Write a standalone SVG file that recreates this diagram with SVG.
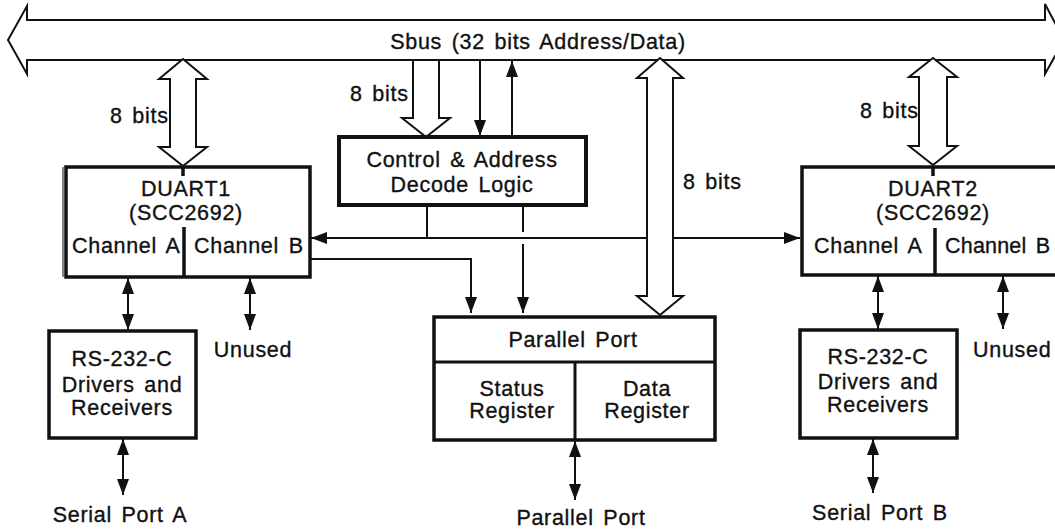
<svg xmlns="http://www.w3.org/2000/svg" width="1055" height="531" viewBox="0 0 1055 531">
  <style>
    .box { fill: #fff; stroke: #111; stroke-width: 3.5; }
    .div { stroke: #111; stroke-width: 3.5; fill: none; }
    .wire { stroke: #111; stroke-width: 2; fill: none; }
    .hollow { fill: #fff; stroke: #111; stroke-width: 2; stroke-linejoin: miter; }
    text { font-family: "Liberation Sans", Arial, sans-serif; font-size: 21.5px; fill: #111; stroke: #111; stroke-width: 0.35px; letter-spacing: 0.7px; word-spacing: 3px; }
    .c { text-anchor: middle; }
  </style>
  <defs>
    <marker id="ah" viewBox="0 0 16 12" refX="16" refY="6" markerWidth="16" markerHeight="12" markerUnits="userSpaceOnUse" orient="auto-start-reverse">
      <path d="M0,0 L16,6 L0,12 z" fill="#111"/>
    </marker>
  </defs>
  <rect width="1055" height="531" fill="#fff"/>

  <!-- System bus -->
  <g id="sbus">
    <polygon class="hollow" points="8,40 27,6 27,20 1045,20 1045,4 1064,40 1045,74 1045,60 27,60 27,74"/>
    <text class="c" x="538" y="49">Sbus (32 bits Address/Data)</text>
  </g>

  <!-- Connectors -->
  <g id="connectors">
    <!-- decode logic to both DUARTs -->
    <line class="wire" x1="311" y1="238" x2="800" y2="238" marker-start="url(#ah)" marker-end="url(#ah)"/>
    <line class="wire" x1="427" y1="205" x2="427" y2="238"/>
    <!-- decode logic to parallel port -->
    <line class="wire" x1="523" y1="205" x2="523" y2="232"/>
    <line class="wire" x1="523" y1="244" x2="523" y2="313" marker-end="url(#ah)"/>
    <!-- DUART1 to parallel port -->
    <polyline class="wire" points="311,259 471,259 471,313" marker-end="url(#ah)"/>
    <!-- bus to decode logic -->
    <polygon class="hollow" points="413,60 413,118 402,118 426,137 450,118 439,118 439,60"/>
    <line class="wire" x1="480" y1="61" x2="480" y2="136" marker-end="url(#ah)"/>
    <line class="wire" x1="512" y1="137" x2="512" y2="61" marker-end="url(#ah)"/>
    <text x="350" y="101">8 bits</text>
    <!-- bus to DUART1 -->
    <polygon class="hollow" points="183,59 207,79 196,79 196,147 207,147 183,166 159,147 170,147 170,79 159,79"/>
    <text x="110" y="123">8 bits</text>
    <!-- bus to DUART2 -->
    <polygon class="hollow" points="933,58 957,77 947,77 947,146 957,146 933,165 909,146 919,146 919,77 909,77"/>
    <text x="860" y="118">8 bits</text>
    <!-- bus to parallel port -->
    <polygon class="hollow" points="660,58 683,78 673,78 673,296 683,296 660,315 637,296 647,296 647,78 637,78"/>
    <text x="683" y="189">8 bits</text>
    <!-- serial channels -->
    <line class="wire" x1="128" y1="278" x2="128" y2="330" marker-start="url(#ah)" marker-end="url(#ah)"/>
    <line class="wire" x1="250" y1="278" x2="250" y2="330" marker-start="url(#ah)" marker-end="url(#ah)"/>
    <line class="wire" x1="878" y1="276" x2="878" y2="329" marker-start="url(#ah)" marker-end="url(#ah)"/>
    <line class="wire" x1="1003" y1="276" x2="1003" y2="329" marker-start="url(#ah)" marker-end="url(#ah)"/>
    <line class="wire" x1="123" y1="439" x2="123" y2="495" marker-start="url(#ah)" marker-end="url(#ah)"/>
    <line class="wire" x1="873" y1="439" x2="873" y2="493" marker-start="url(#ah)" marker-end="url(#ah)"/>
    <line class="wire" x1="575" y1="441" x2="575" y2="500" marker-start="url(#ah)" marker-end="url(#ah)"/>
  </g>

  <!-- DUART1 -->
  <g id="duart1">
    <rect class="box" x="66" y="167" width="244" height="110"/>
    <line x1="63" y1="167" x2="63" y2="277" stroke="#111" stroke-width="1"/>
    <line class="div" x1="184" y1="227" x2="184" y2="277"/>
    <line class="div" x1="183" y1="167" x2="183" y2="176"/>
    <text class="c" x="186" y="196">DUART1</text>
    <text class="c" x="186" y="220">(SCC2692)</text>
    <text x="72" y="253">Channel A</text>
    <text x="194" y="253">Channel B</text>
  </g>

  <!-- Control and address decode -->
  <g id="decode">
    <rect class="box" x="339" y="137" width="247" height="68" style="stroke-width:4"/>
    <text class="c" x="462" y="167">Control &amp; Address</text>
    <text class="c" x="462" y="192">Decode Logic</text>
  </g>

  <!-- DUART2 -->
  <g id="duart2">
    <rect class="box" x="802" y="167" width="270" height="108"/>
    <line class="div" x1="935" y1="228" x2="935" y2="275"/>
    <line class="div" x1="933" y1="167" x2="933" y2="176"/>
    <text class="c" x="933" y="196">DUART2</text>
    <text class="c" x="933" y="220">(SCC2692)</text>
    <text x="814" y="253">Channel A</text>
    <text x="945" y="253" style="letter-spacing:0.2px">Channel B</text>
  </g>

  <!-- Serial drivers A -->
  <g id="rs232a">
    <rect class="box" x="49" y="331" width="147" height="107"/>
    <text class="c" x="122" y="366">RS-232-C</text>
    <text class="c" x="122" y="392">Drivers and</text>
    <text class="c" x="122" y="415">Receivers</text>
  </g>

  <!-- Serial drivers B -->
  <g id="rs232b">
    <rect class="box" x="800" y="330" width="157" height="108"/>
    <text class="c" x="878" y="364">RS-232-C</text>
    <text class="c" x="878" y="389">Drivers and</text>
    <text class="c" x="878" y="412">Receivers</text>
  </g>

  <!-- Parallel port -->
  <g id="parallel">
    <rect class="box" x="434" y="317" width="281" height="123"/>
    <line class="div" x1="434" y1="362" x2="715" y2="362" style="stroke-width:3"/>
    <line class="div" x1="575" y1="362" x2="575" y2="440" style="stroke-width:3"/>
    <text class="c" x="573" y="347">Parallel Port</text>
    <text class="c" x="512" y="396">Status</text>
    <text class="c" x="512" y="418">Register</text>
    <text class="c" x="647" y="396">Data</text>
    <text class="c" x="647" y="418">Register</text>
  </g>

  <!-- Port labels -->
  <g id="labels">
    <text class="c" x="253" y="357">Unused</text>
    <text x="973" y="357">Unused</text>
    <text class="c" x="120" y="522">Serial Port A</text>
    <text class="c" x="581" y="525">Parallel Port</text>
    <text class="c" x="880" y="520">Serial Port B</text>
  </g>
</svg>
